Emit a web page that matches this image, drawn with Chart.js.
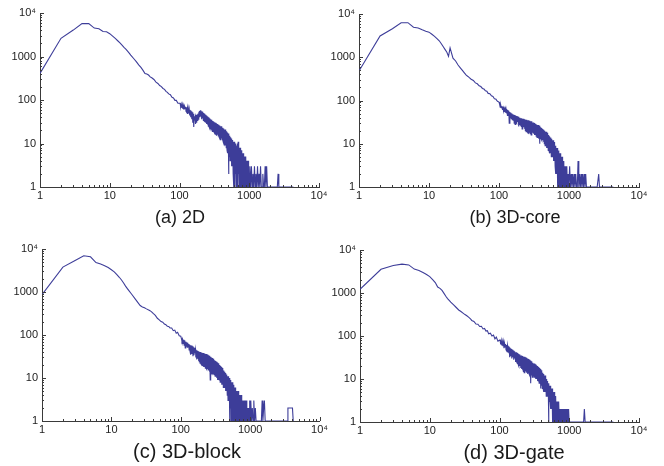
<!DOCTYPE html>
<html><head><meta charset="utf-8">
<script src="https://cdn.jsdelivr.net/npm/chart.js@4.4.0/dist/chart.umd.min.js"></script>
<style>
html,body{margin:0;padding:0;background:#fff;width:664px;height:466px;overflow:hidden;position:relative;}
canvas{position:absolute;}
.cap{position:absolute;font-family:'Liberation Sans',Arial,sans-serif;color:#1a1a1a;white-space:nowrap;transform:translateX(-50%);line-height:1;}
</style></head><body>
<canvas id="cA" width="330" height="233" style="left:0;top:0"></canvas>
<canvas id="cB" width="334" height="233" style="left:330px;top:0"></canvas>
<canvas id="cC" width="330" height="233" style="left:0;top:233px"></canvas>
<canvas id="cD" width="334" height="233" style="left:330px;top:233px"></canvas>
<div class="cap" style="left:180px;top:208px;font-size:18px">(a) 2D</div>
<div class="cap" style="left:515px;top:208px;font-size:18px">(b) 3D-core</div>
<div class="cap" style="left:187px;top:441px;font-size:20px">(c) 3D-block</div>
<div class="cap" style="left:514px;top:442px;font-size:20px">(d) 3D-gate</div>
<script>
// shared x grid (bin sizes)
const binSizes = [
  1,2,3,4,5,6,7,8,9,10,
  11,12,13,14,15,16,17,18,19,20,
  22,24,26,28,30,32,34,36,38,40,
  43,46,49,52,55,58,61,64,67,70,
  74,78,82,86,90,95,100,
  102,104,106,108,110,112,114,116,118,120,
  122,124,126,128,130,132,134,136,138,140,
  143,145,148,150,153,155,158,160,163,165,
  168,170,173,175,178,180,183,185,188,190,
  193,196,199,202,205,208,211,214,217,220,
  223,226,229,232,235,238,242,245,249,252,
  256,259,263,266,270,273,277,280,284,288,
  292,296,
  300,304,309,313,318,322,327,331,336,340,
  345,350,355,360,365,370,375,380,385,390,
  395,400,406,411,417,422,428,433,439,444,
  450,456,462,468,474,480,486,492,499,505,
  512,518,525,531,538,545,552,559,566,573,
  581,588,596,603,611,618,626,634,642,650,
  659,667,676,684,693,701,710,719,728,737,
  747,756,766,775,785,795,805,815,826,836,
  847,857,868,879,890,901,913,924,936,948,
  960,972,985,997,
  1022,1048,1075,1102,1130,1159,1188,1218,1249,1281,
  1314,1347,1381,1416,1452,1489,1527,1566,1606,1647,
  1689,1732,1776,1821,1867,1915,1964,2014,2065,2118,
  2172,2227,2284,2342,2402,2463,2526,2590,2656,2724,
  2793,2864,2937,3012,3089,3168,3249,3332,3417,3504,
  3593,3685,3779,3875,3974,4075,4179,4286
];
const count2D = [
  410,2620,4050,5750,5700,4500,4350,3750,3700,3350,
  2950,2600,2300,2050,1820,1620,1480,1330,1200,1080,
  900,760,640,560,480,405,395,375,340,325,
  296,258,240,215,203,184,176,158,150,138,
  132,115,112,98,98,84,84,
  84,70,80,66,78,62,74,60,72,64,
  70,55,68,52,66,48,62,50,60,44,
  58,40,55,36,52,30,48,24,42,34,
  40,28,46,30,44,34,48,36,52,38,
  56,40,58,42,55,36,54,38,52,34,
  50,33,48,32,46,30,44,28,42,27,
  41,25,40,24,38,22,36,21,35,20,
  34,19,
  33,19,32,18,31,17,30,16,29,15,
  28,16,28,15,27,14,26,13,25,12,
  25,13,24,12,23,11,22,10,21,9,
  21,9,20,8,19,7,18,6,17,2,
  16,5,15,4,14,5,13,3,12,3,
  12,2,11,1,11,1,10,2,10,1,
  9,1,10,1,11,2,9,1,8,1,
  8,1,7,1,7,1,6,1,6,1,
  5,1,5,1,5,1,4,1,4,1,
  4,1,3,1,
  3,1,3,1,2,1,3,1,2,1,
  3,1,2,1,3,1,1,2,1,1,
  3,1,3,1,1,1,1,1,1,1,
  1,1,1,1,1,1,1,2,1,1,
  1,1,1,1,1,1,1,1,1,1,
  1,1,1,1,1,1,1,1
];
const count3DCore = [
  480,3100,4560,6300,6300,4950,4750,4300,4000,3800,
  3400,3050,2700,2400,2050,1750,1500,1300,1050,1650,
  950,820,660,570,495,435,385,360,335,310,
  290,255,243,218,210,190,184,168,164,146,
  144,128,124,110,108,96,92,
  82,70,78,68,74,62,72,58,68,62,
  66,52,64,50,62,45,60,48,58,30,
  54,40,52,38,50,36,48,35,47,30,
  46,28,45,32,44,30,43,32,42,25,
  41,28,40,27,39,25,39,22,38,24,
  38,24,37,22,37,20,36,19,36,19,
  35,18,35,17,34,18,34,17,33,16,
  33,16,
  31,18,31,17,30,16,29,16,28,15,
  28,14,27,14,27,13,26,10,25,13,
  24,13,23,12,22,12,21,11,20,10,
  20,9,19,9,19,8,18,8,17,7,
  16,7,15,6,14,6,14,5,13,5,
  12,5,12,4,11,4,10,3,9,2,
  8,2,8,1,7,2,7,1,6,1,
  6,1,5,1,5,1,5,1,4,1,
  4,1,3,1,3,1,3,1,3,1,
  2,1,2,1,
  3,1,2,1,2,1,2,1,2,1,
  1,4,1,2,1,2,1,2,1,2,
  1,2,1,1,1,1,1,1,1,1,
  1,1,1,1,1,1,1,1,2,1,
  1,1,1,1,1,1,1,1,1,1,
  1,1,1,1,1,1,1,1
];
const count3DBlock = [
  870,3800,5400,6950,6600,4850,4500,4100,3700,3300,
  2950,2550,2200,1900,1620,1370,1200,1065,948,850,
  692,575,483,450,430,405,385,368,345,317,
  285,245,225,205,198,180,174,160,158,146,
  146,126,130,110,116,96,94,
  84,72,80,64,78,58,75,50,70,55,
  68,52,66,55,62,45,60,42,58,35,
  57,36,55,32,52,34,50,38,46,30,
  44,27,43,28,42,25,41,24,40,22,
  40,21,39,20,38,19,38,18,37,18,
  37,17,36,17,36,16,35,16,34,15,
  33,14,32,9,31,14,30,13,29,12,
  28,12,
  27,12,26,11,25,11,24,10,23,9,
  22,9,21,9,20,8,19,8,18,7,
  17,7,16,6,15,6,14,6,13,5,
  12,5,12,4,11,3,11,3,10,1,
  9,2,9,1,8,2,8,1,7,1,
  7,2,6,1,6,1,5,1,5,1,
  5,1,5,1,4,1,4,1,4,1,
  4,1,3,1,3,1,3,1,3,1,
  3,1,3,1,3,1,2,1,2,1,
  2,1,3,1,
  3,1,2,1,3,1,2,1,1,1,
  1,1,1,1,1,3,1,2,3,1,
  1,1,1,1,1,1,1,1,1,1,
  1,1,1,1,1,1,1,1,1,1,
  1,1,1,1,1,1,1,1,1,2,
  2,2,2,2,2,2,1,1
];
const count3DGate = [
  1220,3550,4350,4700,4500,3600,3350,3000,2700,2400,
  2050,1750,1380,1280,1150,980,840,740,670,610,
  530,460,403,370,340,315,295,275,255,230,
  218,190,188,166,168,146,150,130,133,112,
  116,100,105,86,94,76,80,
  80,64,78,60,74,58,72,52,68,56,
  65,48,62,45,60,42,58,40,55,32,
  52,34,50,30,48,32,46,28,44,30,
  42,25,42,24,40,23,40,22,38,20,
  37,20,35,18,35,17,34,16,34,15,
  33,14,33,15,32,15,31,14,30,13,
  30,14,29,13,28,12,27,8,26,12,
  25,11,
  24,12,23,11,23,11,22,10,21,10,
  20,9,20,9,19,8,18,8,17,6,
  16,7,15,6,14,6,13,5,12,5,
  12,5,11,4,10,4,9,4,8,1,
  8,3,7,3,7,2,6,2,6,1,
  5,2,5,1,5,1,4,1,4,1,
  3,1,3,1,3,1,3,1,2,1,
  2,1,2,1,2,1,2,1,2,1,
  2,1,2,1,2,1,2,1,2,1,
  2,1,2,1,
  1,1,1,1,1,1,1,1,1,1,
  1,1,1,1,1,1,1,1,1,2,
  1,1,1,1,1,1,1,1,1,1,
  1,1,1,1,1,1,1,1,1,1,
  1,1,1,1,1,1,1,1,1,1,
  1,1,1,1,1,1,1,1
];
const tickValues = [1, 10, 100, 1000, 10000];
const tickLabels = ['1', '10', '100', '1000', '10\u2074'];
const minorMultipliers = [1,2,3,4,5,6,7,8,9];

const LINE = 'rgb(61,61,153)';
const AXIS = '#3a3a3a';
const LABEL = '#222';
const FONT = "'Liberation Sans', Arial, sans-serif";

[count2D, count3DCore, count3DBlock, count3DGate].forEach((a, i) => {
  if (a.length !== binSizes.length) console.error('length mismatch', i, a.length, binSizes.length);
});

const inwardTicks = {
  id: 'inwardTicks',
  afterDraw(chart) {
    const {ctx, chartArea: a} = chart;
    const xs = chart.scales.x, ys = chart.scales.y;
    ctx.save();
    ctx.strokeStyle = AXIS; ctx.lineWidth = 1;
    ctx.beginPath();
    for (const dec of tickValues) {
      for (const m of minorMultipliers) {
        const v = dec * m;
        if (v > 10000) continue;
        const len = m === 1 ? 4 : 2;
        const px = Math.round(xs.getPixelForValue(v)) + 0.5;
        ctx.moveTo(px, a.bottom); ctx.lineTo(px, a.bottom - len);
        const py = Math.round(ys.getPixelForValue(v)) + 0.5;
        ctx.moveTo(a.left, py); ctx.lineTo(a.left + len, py);
      }
    }
    ctx.stroke();
    ctx.restore();
  }
};

function labelFor(v) {
  const i = tickValues.indexOf(v);
  return i >= 0 ? tickLabels[i] : '';
}

function makeChart(id, ys, box, area) {
  const data = binSizes.map((x, i) => ({x: x, y: ys[i]}));
  const L = area.left - box.left, R = area.right - box.left;
  const T = area.top - box.top, B = area.bottom - box.top;
  return new Chart(document.getElementById(id), {
    type: 'line',
    data: {datasets: [{data: data, borderColor: LINE, borderWidth: 1.1, pointRadius: 0, tension: 0, fill: false}]},
    options: {
      responsive: false, animation: false, devicePixelRatio: 1,
      layout: {padding: {left: 0, top: T, right: box.w - R, bottom: 0}},
      plugins: {legend: {display: false}, tooltip: {enabled: false}},
      scales: {
        x: {
          type: 'logarithmic', min: 1, max: 10000, z: 1,
          afterBuildTicks: s => { s.ticks = tickValues.map(v => ({value: v})); },
          afterFit: s => { s.height = box.h - B; },
          grid: {drawOnChartArea: false, drawTicks: false},
          border: {color: AXIS, width: 1},
          ticks: {padding: 2, autoSkip: false, maxRotation: 0, color: LABEL,
                  font: {family: FONT, size: 11}, callback: v => labelFor(v)}
        },
        y: {
          type: 'logarithmic', min: 1, max: 10000, z: 1,
          afterBuildTicks: s => { s.ticks = tickValues.map(v => ({value: v})); },
          afterFit: s => { s.width = L; },
          grid: {drawOnChartArea: false, drawTicks: false},
          border: {color: AXIS, width: 1},
          ticks: {padding: 4, autoSkip: false, color: LABEL,
                  font: {family: FONT, size: 11}, callback: v => labelFor(v)}
        }
      }
    },
    plugins: [inwardTicks]
  });
}

makeChart('cA', count2D,      {left: 0,   top: 0,   w: 330, h: 233}, {left: 40,  right: 319, top: 13,  bottom: 187});
makeChart('cB', count3DCore,  {left: 330, top: 0,   w: 334, h: 233}, {left: 359, right: 639, top: 14,  bottom: 187});
makeChart('cC', count3DBlock, {left: 0,   top: 233, w: 330, h: 233}, {left: 42,  right: 321, top: 249, bottom: 421});
makeChart('cD', count3DGate,  {left: 330, top: 233, w: 334, h: 233}, {left: 360, right: 639, top: 250, bottom: 422});
</script>
</body></html>
